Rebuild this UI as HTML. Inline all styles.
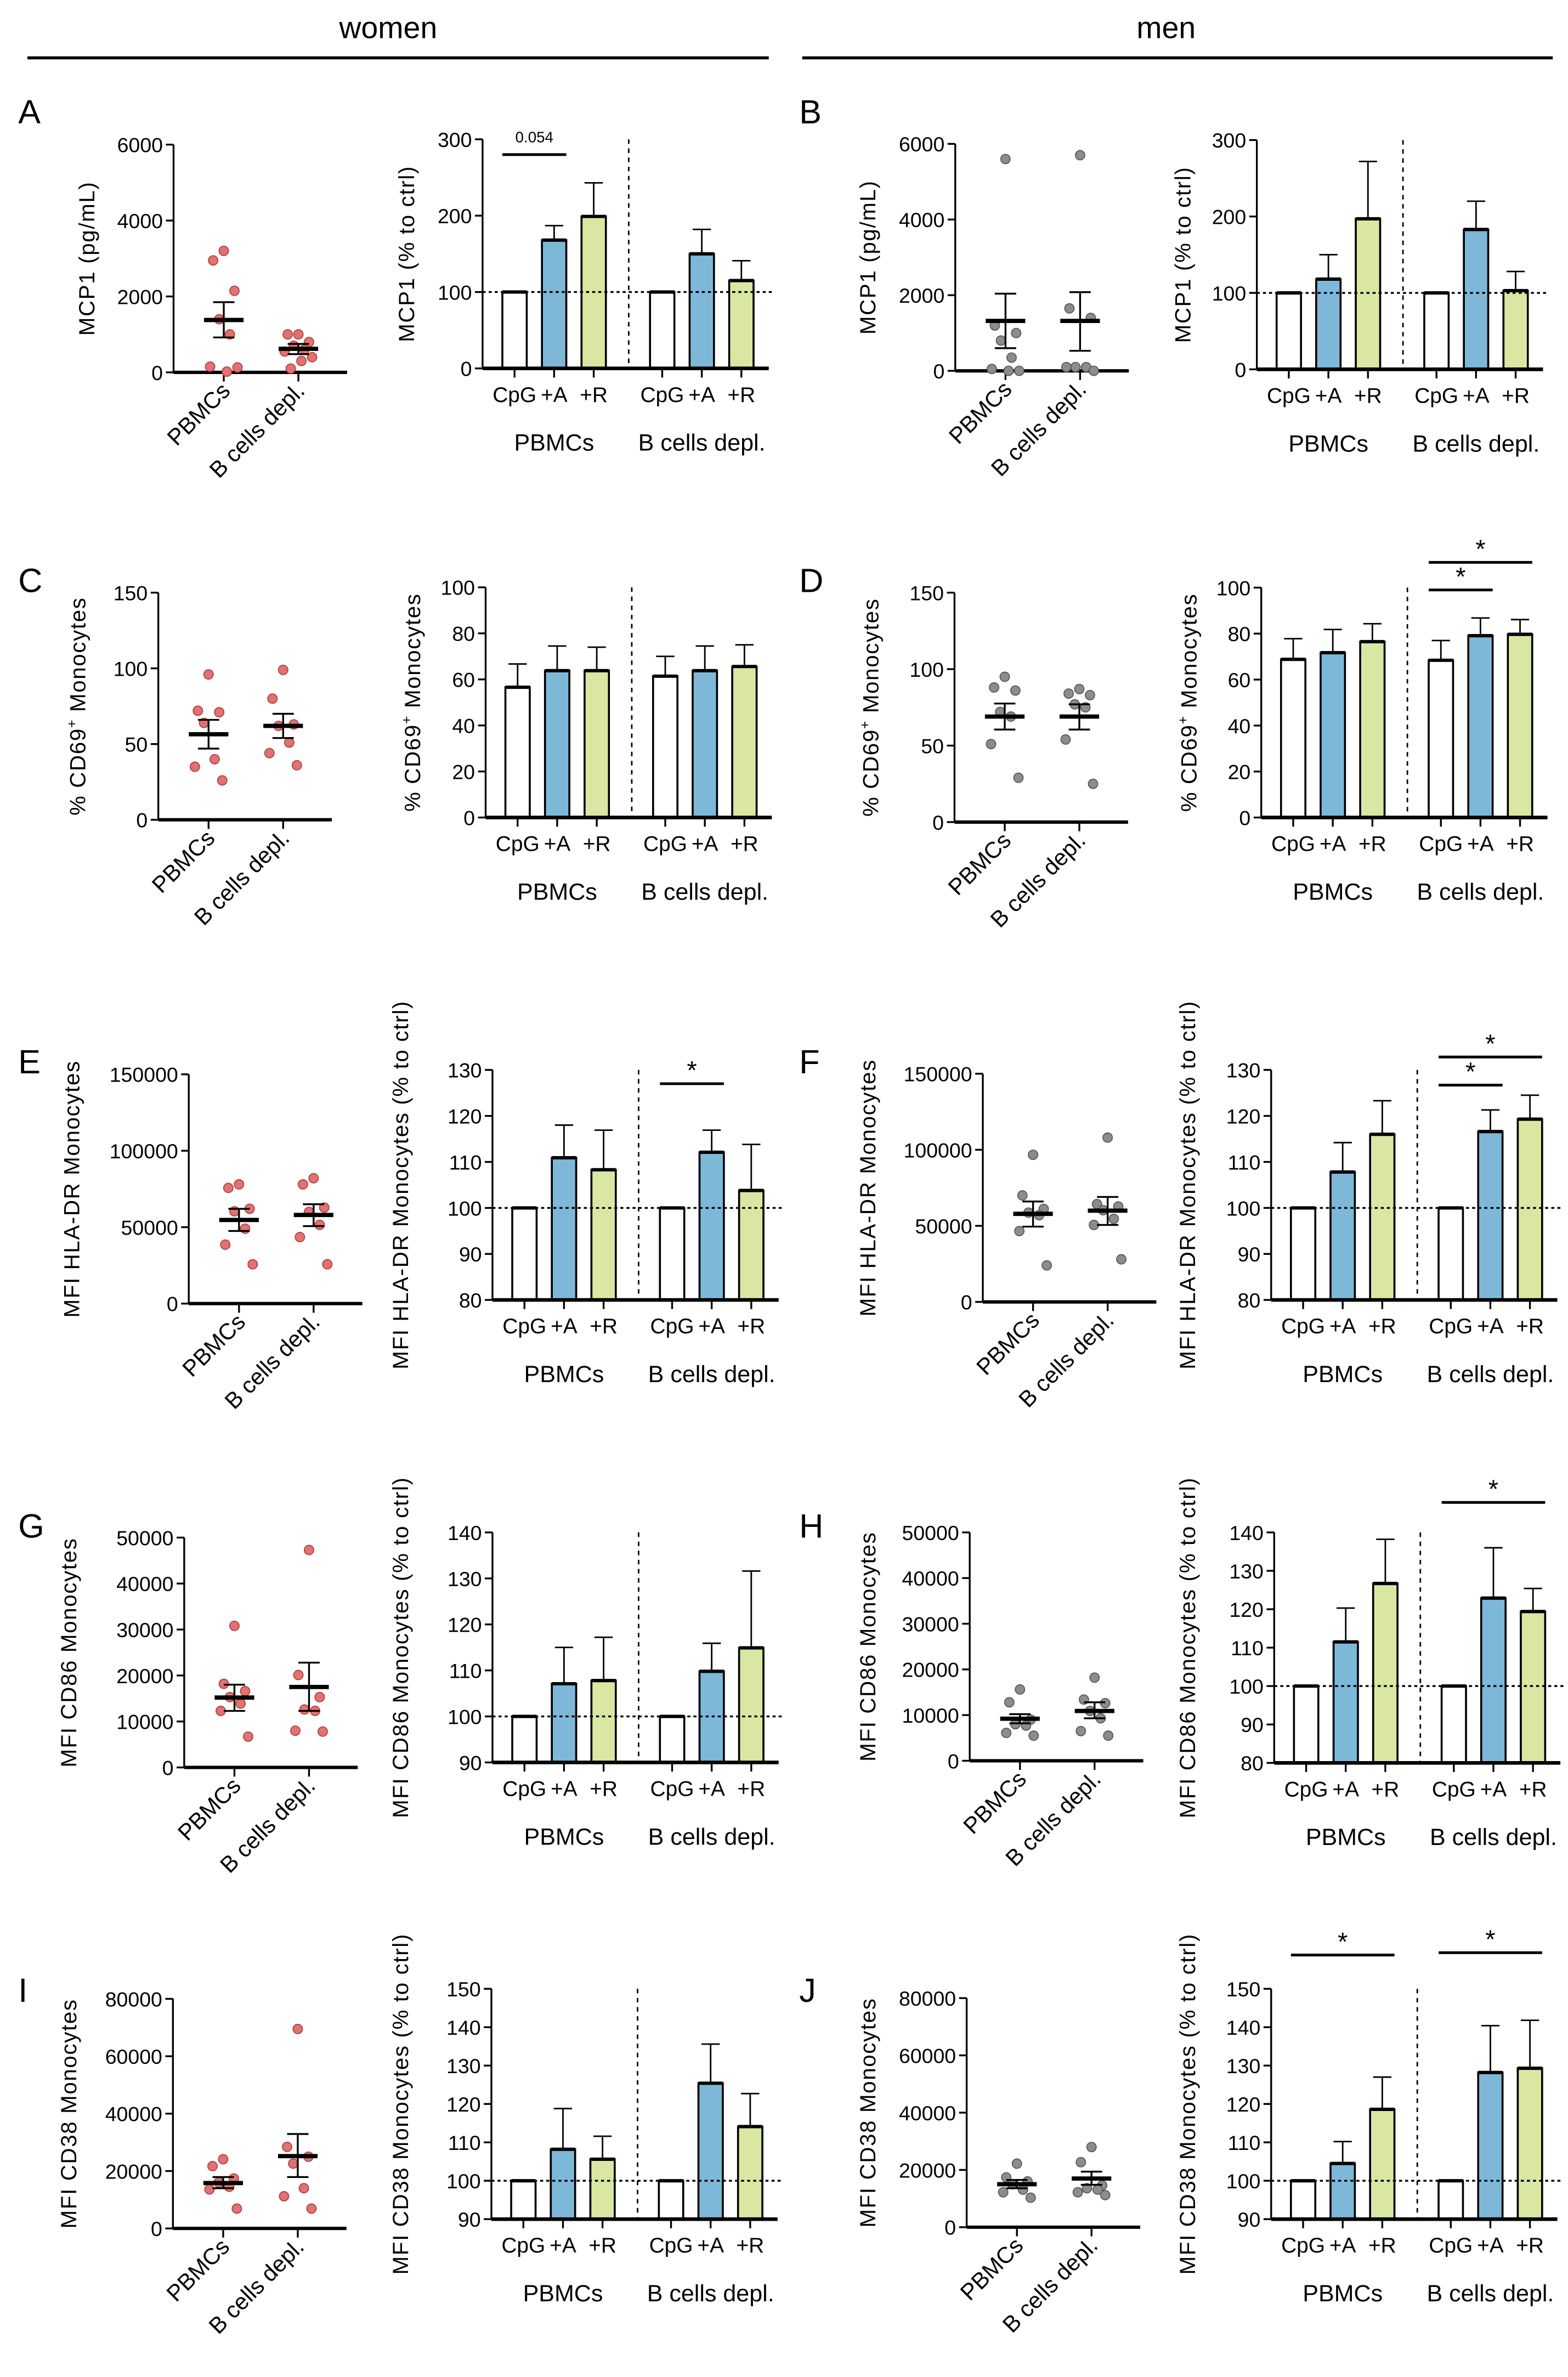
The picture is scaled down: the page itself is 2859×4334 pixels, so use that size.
<!DOCTYPE html>
<html><head><meta charset="utf-8">
<style>
html,body{margin:0;padding:0;background:#fff;}
svg{display:block;font-family:"Liberation Sans",Arial,sans-serif;}
</style></head>
<body>
<svg id="fig" xmlns="http://www.w3.org/2000/svg" width="2859" height="4334" viewBox="0 0 1030 1561.4" preserveAspectRatio="none">
<rect width="1030" height="1562" fill="#fff"/>
<text x="255" y="25" font-size="20" text-anchor="middle">women</text>
<line x1="18" y1="38" x2="505" y2="38" stroke="#000" stroke-width="2"/>
<text x="766" y="25" font-size="20" text-anchor="middle">men</text>
<line x1="527" y1="38" x2="1020" y2="38" stroke="#000" stroke-width="2"/>
</svg>
<script>
// ---------- DATA ----------
const barCategories = ["CpG","+A","+R","CpG","+A","+R"];
const groupNames = ["PBMCs","B cells depl."];

const A_pbmc=[3200,2950,2150,1400,1000,150,130,20];
const A_bdep=[1000,1000,800,700,600,550,400,300,100];
const A_mean=[1380,620]; const A_hi=[1850,750]; const A_lo=[920,480];
const A_bar=[100,168,199,100,150,115]; const A_err=[100,187,243,100,182,141];
const A_ticksS=[0,2000,4000,6000]; const A_ticksB=[0,100,200,300];

const B_pbmc=[5600,1200,1000,800,350,50,0,0];
const B_bdep=[5700,1650,1400,100,100,100,0];
const B_mean=[1320,1320]; const B_hi=[2040,2080]; const B_lo=[600,530];
const B_bar=[100,118,197,100,183,103]; const B_err=[100,150,272,100,220,128];

const C_pbmc=[96,72,71,64,40,35,26];
const C_bdep=[99,80,63,62,51,44,36];
const C_mean=[56.5,62]; const C_hi=[66,70]; const C_lo=[47,54];
const C_bar=[56.6,63.8,63.8,61.4,63.8,65.6]; const C_err=[66.7,74.5,74,70,74.5,75];
const C_ticksS=[0,50,100,150]; const C_ticksB=[0,20,40,60,80,100];

const D_pbmc=[95,88,86,72,69,51,29];
const D_bdep=[87,84,83,77,75,54,25];
const D_mean=[69,69]; const D_hi=[77.5,77]; const D_lo=[60.5,60.5];
const D_bar=[68.8,71.7,76.5,68.4,79.1,79.7]; const D_err=[77.8,81.8,84.3,77,86.8,86.1];

const E_pbmc=[78000,75700,62000,60400,49000,38600,25700];
const E_bdep=[82000,78000,62800,60000,51500,43500,25700];
const E_mean=[54700,58000]; const E_hi=[62000,65000]; const E_lo=[47500,50700];
const E_bar=[100,110.9,108.3,100,112.1,103.8]; const E_err=[100,118,116.9,100,116.9,113.8];
const E_ticksS=[0,50000,100000,150000]; const E_ticksB=[80,90,100,110,120,130];

const F_pbmc=[96700,70000,61100,58700,57000,46600,24000];
const F_bdep=[108000,64300,62700,60300,54600,50600,28000];
const F_mean=[57900,60000]; const F_hi=[66000,69000]; const F_lo=[49500,50600];
const F_bar=[100,107.8,116,100,116.6,119.3]; const F_err=[100,114.2,123.3,100,121.3,124.5];

const G_pbmc=[30800,18200,16600,15300,13900,12300,6700];
const G_bdep=[47300,20100,15300,12600,12300,8000,7800];
const G_mean=[15200,17500]; const G_hi=[18000,22800]; const G_lo=[12300,12300];
const G_bar=[100,107.1,107.8,100,109.8,114.9]; const G_err=[100,115,117.2,100,115.9,131.6];
const G_ticksS=[0,10000,20000,30000,40000,50000]; const G_ticksB=[90,100,110,120,130,140];

const H_pbmc=[15600,12800,9000,8000,7700,6100,5500];
const H_bdep=[18200,13400,12600,10900,9300,6500,5500];
const H_mean=[9200,10900]; const H_hi=[10200,12800]; const H_lo=[8200,9300];
const H_bar=[100,111.5,126.7,100,122.9,119.4]; const H_err=[100,120.3,138.2,100,136,125.4];
const H_ticksB=[80,90,100,110,120,130,140];

const I_pbmc=[24100,21700,17400,16000,14500,13600,6900];
const I_bdep=[69500,28400,25000,22600,14000,11200,6900];
const I_mean=[15800,25200]; const I_hi=[17900,32900]; const I_lo=[14000,17900];
const I_bar=[100,108.2,105.6,100,125.4,114.1]; const I_err=[100,118.8,111.6,100,135.6,122.7];
const I_ticksS=[0,20000,40000,60000,80000]; const I_ticksB=[90,100,110,120,130,140,150];

const J_pbmc=[22200,17400,16000,15000,13100,12200,10300];
const J_bdep=[28000,22700,14600,13600,13100,12200,11200];
const J_mean=[15000,17000]; const J_hi=[16500,19400]; const J_lo=[13600,14800];
const J_bar=[100,104.5,118.6,100,128.2,129.3]; const J_err=[100,110.2,127,100,140.4,141.8];

const A_sigFrom=[0]; const A_sigTo=[1]; const A_sigY=[280]; const A_sigLbl=["0.054"];
const D_sigFrom=[3,3]; const D_sigTo=[4,5]; const D_sigY=[99,111]; const D_sigLbl=["*","*"];
const E_sigFrom=[3]; const E_sigTo=[4]; const E_sigY=[127]; const E_sigLbl=["*"];
const F_sigFrom=[3,3]; const F_sigTo=[4,5]; const F_sigY=[126.7,132.8]; const F_sigLbl=["*","*"];
const H_sigFrom=[3]; const H_sigTo=[5]; const H_sigY=[147.8]; const H_sigLbl=["*"];
const J_sigFrom=[0,3]; const J_sigTo=[2,5]; const J_sigY=[158.8,159.4]; const J_sigLbl=["*","*"];

// ---------- DRAWING ----------
const NS="http://www.w3.org/2000/svg";
const svg=document.getElementById('fig');
function mk(tag,attrs,parent,txt){
  const e=document.createElementNS(NS,tag);
  for(const k in attrs) e.setAttribute(k,attrs[k]);
  if(txt!==undefined) e.textContent=txt;
  (parent||svg).appendChild(e); return e;
}
function scaleY(min,max,top,bot){return v=>bot-(v-min)/(max-min)*(bot-top);}
const JIT=[0,-7,7,-3,4,-9,9,2,-5];
const BAR_OFF=[21,47,73,118,144,170]; const SEP_OFF=96; const BAR_END=188; const BW=16;

function yTitle(x,yc,txt,sup,name,g){
  const t=mk('text',{x:0,y:0,'font-size':14.5,'text-anchor':'middle','letter-spacing':0.6,transform:`translate(${x},${yc}) rotate(-90)`},g);
  
  
  if(sup){
    t.appendChild(document.createTextNode(txt[0]));
    mk('tspan',{'font-size':9,dy:-6},t,sup);
    mk('tspan',{dy:6},t,txt[1]);
  } else t.textContent=txt;
}

function scatter(p){
  const g=mk('g',{});
  
  
  const ticks=p.ticks, y=scaleY(ticks[0],ticks[ticks.length-1],p.top,p.bot);
  const ax=p.ax;
  const ya=mk('line',{x1:ax,y1:p.top,x2:ax,y2:p.bot,stroke:'#000','stroke-width':1.2},g);
  
  
  ticks.forEach(t=>{
    mk('line',{x1:ax-5,y1:y(t),x2:ax,y2:y(t),stroke:'#000','stroke-width':1.2},g);
    const tl=mk('text',{x:ax-7,y:y(t)+5,'font-size':13.5,'text-anchor':'end'},g,String(t));
    
    
  });
  const xa=mk('line',{x1:ax,y1:p.bot,x2:ax+114,y2:p.bot,stroke:'#000','stroke-width':2.2},g);
  
  
  const cats=[ax+33,ax+82];
  const series=[p.d1,p.d2];
  const fill=p.men?'#8c8c8c':'#e07272', st=p.men?'#555':'#b23a3a';
  cats.forEach((cx,i)=>{
    mk('line',{x1:cx,y1:p.bot,x2:cx,y2:p.bot+6,stroke:'#000','stroke-width':1.2},g);
    const lab=mk('text',{x:0,y:0,'font-size':15,'text-anchor':'end',transform:`translate(${cx+5},${p.bot+13}) rotate(-45)`},g,groupNames[i]);
    
    
    series[i].forEach((v,j)=>{
      const c=mk('circle',{cx:cx+JIT[j%JIT.length],cy:y(v),r:3.1,fill:fill,stroke:st,'stroke-width':0.6},g);
      
      
    });
    const e=mk('path',{d:`M${cx},${y(p.lo[i])}V${y(p.hi[i])}M${cx-7},${y(p.hi[i])}H${cx+7}M${cx-7},${y(p.lo[i])}H${cx+7}`,stroke:'#000','stroke-width':1.2,fill:'none'},g);
    
    
    const m=mk('line',{x1:cx-13,y1:y(p.mean[i]),x2:cx+13,y2:y(p.mean[i]),stroke:'#000','stroke-width':2.8},g);
    
    
  });
  yTitle(p.tx,(p.top+p.bot)/2,p.title,p.sup,'y-axis-title',g);
}

function bars(p){
  const g=mk('g',{});
  
  
  const ticks=p.ticks, ymin=ticks[0], y=scaleY(ymin,ticks[ticks.length-1],p.top,p.bot);
  const ax=p.ax;
  const ya=mk('line',{x1:ax,y1:p.top,x2:ax,y2:p.bot,stroke:'#000','stroke-width':1.2},g);
  
  
  ticks.forEach(t=>{
    mk('line',{x1:ax-5,y1:y(t),x2:ax,y2:y(t),stroke:'#000','stroke-width':1.2},g);
    const tl=mk('text',{x:ax-7,y:y(t)+5,'font-size':13.5,'text-anchor':'end'},g,String(t));
    
    
  });
  const sep=mk('line',{x1:ax+SEP_OFF,y1:p.top,x2:ax+SEP_OFF,y2:p.bot,stroke:'#000','stroke-width':1,'stroke-dasharray':'3,3'},g);
  
  
  const colors=['#ffffff','#7db8d9','#d9e7a3'];
  p.vals.forEach((v,i)=>{
    const cx=ax+BAR_OFF[i];
    if(p.err[i]>v){
      mk('path',{d:`M${cx},${y(v)}V${y(p.err[i])}M${cx-6},${y(p.err[i])}H${cx+6}`,stroke:'#000','stroke-width':1,fill:'none'},g);
    }
    const r=mk('rect',{x:cx-BW/2,y:y(v),width:BW,height:y(ymin)-y(v),fill:colors[i%3],stroke:'#000','stroke-width':1.3},g);
    
    
    mk('line',{x1:cx-BW/2,y1:y(v),x2:cx+BW/2,y2:y(v),stroke:'#000','stroke-width':2.2},g);
    mk('line',{x1:cx,y1:p.bot,x2:cx,y2:p.bot+6,stroke:'#000','stroke-width':1.2},g);
    const xl=mk('text',{x:cx,y:p.bot+22,'font-size':14,'text-anchor':'middle'},g,barCategories[i]);
    
    
  });
  if(p.ref){
    const rl=mk('line',{x1:ax,y1:y(100),x2:ax+BAR_END+2,y2:y(100),stroke:'#000','stroke-width':1.2,'stroke-dasharray':'2,2'},g);
    
    
  }
  const xa=mk('line',{x1:ax,y1:p.bot,x2:ax+BAR_END,y2:p.bot,stroke:'#000','stroke-width':2.4},g);
  
  
  [ax+47,ax+144].forEach((gx,i)=>{
    const gl=mk('text',{x:gx,y:p.bot+54,'font-size':15.5,'text-anchor':'middle'},g,groupNames[i]);
    
    
  });
  if(p.sigFrom){
    p.sigFrom.forEach((f,k)=>{
      const x1=ax+BAR_OFF[f]-8, x2=ax+BAR_OFF[p.sigTo[k]]+8, yy=y(p.sigY[k]);
      const sl=mk('line',{x1:x1,y1:yy,x2:x2,y2:yy,stroke:'#000','stroke-width':1.8},g);
      
      
      const isStar=p.sigLbl[k]==='*';
      const st=mk('text',{x:(x1+x2)/2,y:isStar?yy-3:yy-8,'font-size':isStar?17:10,'text-anchor':'middle'},g,p.sigLbl[k]);
      
      
    });
  }
  yTitle(p.tx,(p.top+p.bot)/2,p.title,p.sup,'y-axis-title',g);
}

function letter(x,y,t){
  const e=mk('text',{x:x,y:y,'font-size':22},svg,t);
  
  
}
letter(12,81,'A'); letter(525,81,'B'); letter(12,389,'C'); letter(525,389,'D');
letter(12,705,'E'); letter(525,705,'F'); letter(12,1010,'G'); letter(525,1010,'H');
letter(12,1315,'I'); letter(525,1315,'J');

const cd69=[['% CD69',' Monocytes'],'+'];
// Row A/B
scatter({name:'panel-a-scatter',ax:114,top:95,bot:244.6,ticks:A_ticksS,d1:A_pbmc,d2:A_bdep,mean:A_mean,hi:A_hi,lo:A_lo,tx:62,title:'MCP1 (pg/mL)'});
bars({name:'panel-a-bars',ax:317,top:91.5,bot:242,ticks:A_ticksB,vals:A_bar,err:A_err,ref:true,tx:272,title:'MCP1 (% to ctrl)',sigFrom:A_sigFrom,sigTo:A_sigTo,sigY:A_sigY,sigLbl:A_sigLbl});
scatter({name:'panel-b-scatter',ax:627.5,top:94.5,bot:243.6,ticks:A_ticksS,d1:B_pbmc,d2:B_bdep,mean:B_mean,hi:B_hi,lo:B_lo,tx:575,men:true,title:'MCP1 (pg/mL)'});
bars({name:'panel-b-bars',ax:825.6,top:92,bot:242.6,ticks:A_ticksB,vals:B_bar,err:B_err,ref:true,tx:782,title:'MCP1 (% to ctrl)'});
// Row C/D
scatter({name:'panel-c-scatter',ax:104,top:389.3,bot:538.5,ticks:C_ticksS,d1:C_pbmc,d2:C_bdep,mean:C_mean,hi:C_hi,lo:C_lo,tx:56,title:cd69[0],sup:cd69[1]});
bars({name:'panel-c-bars',ax:319,top:385.8,bot:537,ticks:C_ticksB,vals:C_bar,err:C_err,ref:false,tx:276,title:cd69[0],sup:cd69[1]});
scatter({name:'panel-d-scatter',ax:627,top:389.3,bot:540,ticks:C_ticksS,d1:D_pbmc,d2:D_bdep,mean:D_mean,hi:D_hi,lo:D_lo,tx:577,men:true,title:cd69[0],sup:cd69[1]});
bars({name:'panel-d-bars',ax:828.5,top:386,bot:537,ticks:C_ticksB,vals:D_bar,err:D_err,ref:false,tx:786,title:cd69[0],sup:cd69[1],sigFrom:D_sigFrom,sigTo:D_sigTo,sigY:D_sigY,sigLbl:D_sigLbl});
// Row E/F
scatter({name:'panel-e-scatter',ax:124,top:705.7,bot:856.3,ticks:E_ticksS,d1:E_pbmc,d2:E_bdep,mean:E_mean,hi:E_hi,lo:E_lo,tx:52,title:'MFI HLA-DR Monocytes'});
bars({name:'panel-e-bars',ax:323.5,top:702.8,bot:853.9,ticks:E_ticksB,vals:E_bar,err:E_err,ref:true,tx:268,title:'MFI HLA-DR Monocytes (% to ctrl)',sigFrom:E_sigFrom,sigTo:E_sigTo,sigY:E_sigY,sigLbl:E_sigLbl});
scatter({name:'panel-f-scatter',ax:645.6,top:705.3,bot:855.2,ticks:E_ticksS,d1:F_pbmc,d2:F_bdep,mean:F_mean,hi:F_hi,lo:F_lo,tx:575,men:true,title:'MFI HLA-DR Monocytes'});
bars({name:'panel-f-bars',ax:835,top:702.8,bot:853.9,ticks:E_ticksB,vals:F_bar,err:F_err,ref:true,tx:785,title:'MFI HLA-DR Monocytes (% to ctrl)',sigFrom:F_sigFrom,sigTo:F_sigTo,sigY:F_sigY,sigLbl:F_sigLbl});
// Row G/H
scatter({name:'panel-g-scatter',ax:121,top:1010,bot:1161,ticks:G_ticksS,d1:G_pbmc,d2:G_bdep,mean:G_mean,hi:G_hi,lo:G_lo,tx:50,title:'MFI CD86 Monocytes'});
bars({name:'panel-g-bars',ax:323.5,top:1006.6,bot:1157.7,ticks:G_ticksB,vals:G_bar,err:G_err,ref:true,tx:268,title:'MFI CD86 Monocytes (% to ctrl)'});
scatter({name:'panel-h-scatter',ax:637,top:1006.6,bot:1156.6,ticks:G_ticksS,d1:H_pbmc,d2:H_bdep,mean:H_mean,hi:H_hi,lo:H_lo,tx:575,men:true,title:'MFI CD86 Monocytes'});
bars({name:'panel-h-bars',ax:837,top:1006.6,bot:1158,ticks:H_ticksB,vals:H_bar,err:H_err,ref:true,tx:785,title:'MFI CD86 Monocytes (% to ctrl)',sigFrom:H_sigFrom,sigTo:H_sigTo,sigY:H_sigY,sigLbl:H_sigLbl});
// Row I/J
scatter({name:'panel-i-scatter',ax:113.6,top:1313,bot:1463.8,ticks:I_ticksS,d1:I_pbmc,d2:I_bdep,mean:I_mean,hi:I_hi,lo:I_lo,tx:50,title:'MFI CD38 Monocytes'});
bars({name:'panel-i-bars',ax:322.8,top:1306.4,bot:1457.7,ticks:I_ticksB,vals:I_bar,err:I_err,ref:true,tx:268,title:'MFI CD38 Monocytes (% to ctrl)'});
scatter({name:'panel-j-scatter',ax:635,top:1312.5,bot:1463,ticks:I_ticksS,d1:J_pbmc,d2:J_bdep,mean:J_mean,hi:J_hi,lo:J_lo,tx:575,men:true,title:'MFI CD38 Monocytes'});
bars({name:'panel-j-bars',ax:835,top:1306.4,bot:1457.7,ticks:I_ticksB,vals:J_bar,err:J_err,ref:true,tx:785,title:'MFI CD38 Monocytes (% to ctrl)',sigFrom:J_sigFrom,sigTo:J_sigTo,sigY:J_sigY,sigLbl:J_sigLbl});
</script>
</body></html>
